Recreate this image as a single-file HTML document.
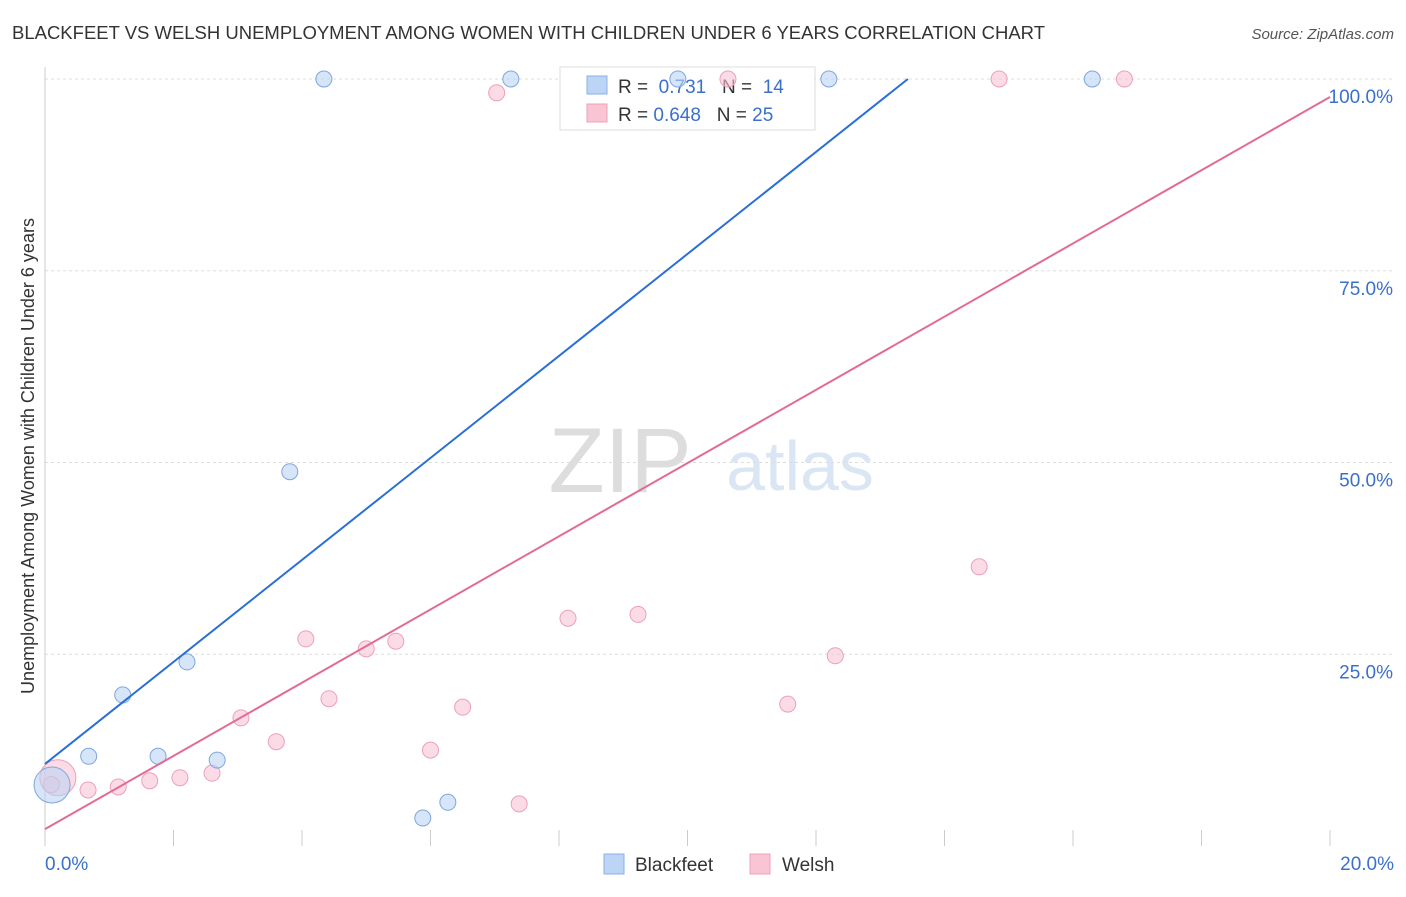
<!DOCTYPE html>
<html><head><meta charset="utf-8"><style>
body{margin:0;background:#fff;font-family:"Liberation Sans",sans-serif}
svg text{font-family:"Liberation Sans",sans-serif}
</style></head><body>
<svg id="c" width="1406" height="892">
<text x="12" y="39" font-size="18.5" fill="#333" textLength="1033">BLACKFEET VS WELSH UNEMPLOYMENT AMONG WOMEN WITH CHILDREN UNDER 6 YEARS CORRELATION CHART</text>
<text x="1394" y="39" font-size="15" fill="#555" font-style="italic" text-anchor="end">Source: ZipAtlas.com</text>
<text x="620" y="492" font-size="92" fill="#ddd" font-family="Liberation Serif" text-anchor="middle">ZIP</text>
<text x="800" y="490" font-size="70" fill="#dbe6f5" text-anchor="middle">atlas</text>
<text transform="translate(34,456) rotate(-90)" font-size="18" fill="#333" text-anchor="middle">Unemployment Among Women with Children Under 6 years</text>
<g id="grid"></g>
<g>
<rect x="560" y="67" width="255" height="63" fill="#fff" stroke="#ddd"/>
<rect x="587" y="76" width="20" height="18" fill="#bcd4f5" stroke="#8ab0e6"/>
<rect x="587" y="104" width="20" height="18" fill="#f9c5d5" stroke="#eda0b8"/>
<text x="618" y="93" font-size="19" fill="#333" xml:space="preserve">R =  <tspan fill="#3a70cc">0.731</tspan>   N =  <tspan fill="#3a70cc">14</tspan></text>
<text x="618" y="121" font-size="19" fill="#333" xml:space="preserve">R = <tspan fill="#3a70cc">0.648</tspan>   N = <tspan fill="#3a70cc">25</tspan></text>
</g>
<g id="pts"></g><g id="lines"></g>
<g>
<rect x="604" y="854" width="20" height="20" fill="#bcd4f5" stroke="#8ab0e6"/>
<text x="635" y="871" font-size="19" fill="#333">Blackfeet</text>
<rect x="750" y="854" width="20" height="20" fill="#f9c5d5" stroke="#eda0b8"/>
<text x="782" y="871" font-size="19" fill="#333">Welsh</text>
</g>
</svg>
<script>
const yTicks=[25,50,75,100];
const yTickLabels=["25.0%","50.0%","75.0%","100.0%"];
const xTickLabels=["0.0%","20.0%"];
const bfX=[0.11,0.68,1.21,1.76,2.21,2.68,3.81,4.34,5.88,6.27,7.25,9.85,12.2,16.3];
const bfY=[7.95,11.7,19.7,11.7,24.0,11.2,48.8,100,3.65,5.7,100,100,100,100];
const weX=[0.2,0.67,1.14,1.63,2.1,2.6,3.05,3.6,4.06,4.42,5.0,5.46,6.0,6.5,7.03,7.38,8.14,9.23,10.63,11.56,12.3,14.54,14.85,16.8,0.1];
const weY=[8.9,7.3,7.7,8.5,8.9,9.5,16.7,13.6,27.0,19.2,25.7,26.7,12.5,18.1,98.2,5.5,29.7,30.2,100,18.5,24.8,36.4,100,100,8.0];
const bfLine=[0,10.7,13.43,100];
const weLine=[0,2.2,20,97.65];
const X=v=>45+v/20*1285, Y=v=>846-v/100*767;
const NS="http://www.w3.org/2000/svg";
function mk(t,a,p){const e=document.createElementNS(NS,t);for(const k in a)e.setAttribute(k,a[k]);p.appendChild(e);return e;}
const g=document.getElementById('grid');
yTicks.forEach((t,i)=>{
 const l=mk('line',{x1:45,x2:1394,y1:Y(t),y2:Y(t),stroke:'#ddd','stroke-dasharray':'3,3'},g);
 
 
 const tx=mk('text',{x:1393,y:Y(t)+24,'font-size':19,fill:'#3a70cc','text-anchor':'end'},g);
 tx.textContent=yTickLabels[i];
 
 
});
const ax=mk('line',{x1:45,x2:45,y1:67,y2:846,stroke:'#ccc'},g);


for(let i=0;i<=10;i++){
 const t=mk('line',{x1:X(i*2),x2:X(i*2),y1:830,y2:846,stroke:'#ccc'},g);
 
 
}
[[0,'start',45],[20,'end',1394]].forEach((d,i)=>{
 const tx=mk('text',{x:d[2],y:870,'font-size':19,fill:'#3a70cc','text-anchor':d[1]},g);
 tx.textContent=xTickLabels[i];
 
 
});
const p=document.getElementById('pts');
function pts(xs,ys,fill,stroke,name,bigIdx){
 xs.forEach((x,i)=>{
  const c=mk('circle',{cx:X(x),cy:Y(ys[i]),r:i===bigIdx?18:8,fill:fill,'fill-opacity':0.6,stroke:stroke},p);
  
  
 });
}
pts(weX,weY,'#f9c5d5','#eda0b8','welsh',0);
pts(bfX,bfY,'#bcd4f5','#7ea6e0','blackfeet',0);
const L=document.getElementById('lines');
const a=mk('line',{x1:X(bfLine[0]),y1:Y(bfLine[1]),x2:X(bfLine[2]),y2:Y(bfLine[3]),stroke:'#2a6fd6','stroke-width':2},L);


const b=mk('line',{x1:X(weLine[0]),y1:Y(weLine[1]),x2:X(weLine[2]),y2:Y(weLine[3]),stroke:'#e36a96','stroke-width':2},L);


</script>
</body></html>
